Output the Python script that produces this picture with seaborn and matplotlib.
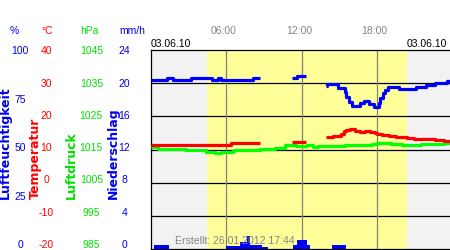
import numpy as np
import pandas as pd
import matplotlib
matplotlib.use("Agg")
import matplotlib.pyplot as plt
from matplotlib import transforms
import seaborn as sns

# ---------------- data ----------------
nan = np.nan
# relative humidity (%), step changes, nan = gap
humidity_hours = [0.0, 1.3, 1.8, 3.2, 4.9, 5.35, 5.6, 8.15, 8.7, nan,
                  11.2, 11.6, 12.3, nan,
                  13.9, 14.0, 14.9, 15.4, 15.55, 15.75, 15.95, 16.6, 16.95, 17.35,
                  17.7, 18.1, 18.25, 18.45, 18.65, 18.85, 19.7, 21.1, 21.9, 22.6,
                  23.5, 24.0]
humidity_values = [84.8, 86.0, 84.8, 86.0, 84.8, 86.0, 84.8, 86.0, 86.0, nan,
                   86.1, 86.8, 86.8, nan,
                   81.9, 82.9, 80.7, 79.0, 76.5, 74.0, 72.0, 73.4, 74.4, 73.0,
                   71.6, 73.4, 76.0, 78.5, 80.0, 81.3, 80.3, 81.4, 82.4, 83.4,
                   84.4, 84.4]
# temperature (°C)
temp_hours = [0.0, 6.4, 8.7, nan,
              11.2, 12.3, nan,
              13.9, 14.5, 15.1, 15.35, 15.55, 15.8, 16.2, 16.6, 17.0, 17.4, 17.8,
              18.0, 18.4, 18.9, 19.5, 20.4, 20.9, 21.9, 22.6, 23.3, 24.0]
temp_values = [11.5, 11.9, 11.9, nan,
               12.4, 12.4, nan,
               13.7, 14.1, 14.8, 15.5, 15.9, 16.1, 15.7, 15.4, 15.6, 15.4, 15.0,
               14.7, 14.4, 14.1, 13.8, 13.6, 13.3, 13.1, 12.9, 12.7, 12.7]
# air pressure (hPa)
pressure_hours = [0.0, 0.6, 2.8, 4.4, 5.1, 5.6, 6.5, 6.6, 8.7, 9.9, 10.7, 11.5,
                  12.4, 12.9, 13.3, 15.4, 17.6, 18.0, 19.1, 20.0, 21.5, 22.5, 23.3, 24.0]
pressure_values = [1015.8, 1015.3, 1014.7, 1014.2, 1013.8, 1014.1, 1014.5, 1015.0,
                   1015.2, 1015.6, 1016.3, 1016.1, 1016.3, 1015.9, 1016.2, 1016.5,
                   1016.8, 1016.9, 1016.6, 1016.4, 1016.7, 1016.8, 1017.0, 1017.0]
# precipitation (mm/h)
precip_start = [0.25, 5.98, 7.10, 7.65, 7.90, 8.85, 11.30, 11.60, 12.40, 14.40]
precip_end = [1.45, 7.10, 7.65, 7.90, 8.85, 9.30, 11.60, 12.40, 12.65, 15.50]
precip_values = [0.5, 0.4, 0.9, 1.6, 0.5, 0.3, 0.5, 1.1, 0.5, 0.5]

sunrise, sunset = 4.47, 20.37
time_ticks = [6, 12, 18]
time_labels = ["06:00", "12:00", "18:00"]
date_label = "03.06.10"
created_label = "Erstellt: 26.01.2012 17:44"

humidity_ticks = [100, 75, 50, 25, 0]
temp_ticks = [40, 30, 20, 10, 0, -10, -20]
pressure_ticks = [1045, 1035, 1025, 1015, 1005, 995, 985]
precip_ticks = [24, 20, 16, 12, 8, 4, 0]

# ---------------- style ----------------
sns.set_theme(style="white")
plt.rcParams["font.family"] = ["Liberation Sans", "DejaVu Sans"]

BLUE = "#0000ff"
RED = "#ff0000"
GREEN = "#00ff00"
BLUE_T = "#0000ee"
RED_T = "#ff0000"
GREEN_T = "#00e000"
GRAY_T = "#858585"

W, H = 450, 250
fig = plt.figure(figsize=(4.5, 2.5), dpi=100)
fig.patch.set_facecolor("white")


def fx(px):
    return px / W


def fy(py):
    return 1 - py / H


ax = fig.add_axes([150.8 / W, 1 - 249 / H, 302 / W, 199 / H])
ax.set_facecolor("#f2f2f2")
ax.axvspan(sunrise, sunset, color="#ffff99", lw=0, zorder=0)
for y in precip_ticks[1:-1]:
    ax.axhline(y, color="black", lw=0.9, zorder=1)
for t in time_ticks:
    ax.axvline(t, color="#808080", lw=0.9, zorder=1)

widths = [e - s for s, e in zip(precip_start, precip_end)]
ax.bar(precip_start, precip_values, width=widths, align="edge", color=BLUE,
       lw=0, zorder=2)
ax.set_ylim(0, 24)
ax.set_xticks([])
ax.set_yticks([])
for s in ax.spines.values():
    s.set_color("black")
    s.set_linewidth(0.9)


def segments(hours, values):
    df = pd.DataFrame({"hour": hours, "value": values})
    df["seg"] = df["value"].isna().cumsum()
    return df.dropna()


def draw(hours, values, ylim, color):
    tw = ax.twinx()
    sns.lineplot(data=segments(hours, values), x="hour", y="value", units="seg",
                 estimator=None, ax=tw, color=color, lw=2.3,
                 drawstyle="steps-post", solid_capstyle="butt", legend=False)
    tw.set_ylim(*ylim)
    tw.axis("off")
    return tw


draw(pressure_hours, pressure_values, (985, 1045), GREEN)
draw(temp_hours, temp_values, (-20, 40), RED)
draw(humidity_hours, humidity_values, (0, 100), BLUE)
ax.set_xlim(0, 24)

# ---------------- left scales ----------------
FS = 7.5


def scale_labels(ticks, xc, color):
    lo, hi = min(ticks), max(ticks)
    for v in ticks:
        frac = (v - lo) / (hi - lo)
        yc = 50.7 + (1 - frac) * 193.5
        fig.text(fx(xc), fy(yc + 3.7), f"{v}", ha="center", va="baseline",
                 color=color, fontsize=FS)


scale_labels(humidity_ticks, 20.0, BLUE_T)
scale_labels(temp_ticks, 46.5, RED_T)
scale_labels(pressure_ticks, 91.3, GREEN_T)
scale_labels(precip_ticks, 124.5, BLUE_T)

for txt, xc, col in [("%", 14.2, BLUE_T), ("°C", 46.7, RED_T),
                     ("hPa", 89.5, GREEN_T), ("mm/h", 132.5, BLUE_T)]:
    fig.text(fx(xc), fy(34.4), txt, ha="center", va="baseline", color=col,
             fontsize=FS)

for txt, xc, col in [("Luftfeuchtigkeit", 5.3, BLUE_T), ("Temperatur", 35.3, RED_T),
                     ("Luftdruck", 71.3, GREEN_T), ("Niederschlag", 113.0, BLUE_T)]:
    fig.text(fx(xc), fy(199.3), txt, rotation=90, ha="center", va="bottom",
             color=col, fontsize=9, fontweight="bold", family="DejaVu Sans")

# ---------------- top labels ----------------
trans = transforms.blended_transform_factory(ax.transData, fig.transFigure)
trans = transforms.offset_copy(trans, fig=fig, x=-2.6, y=0, units="dots")
for t, lab in zip(time_ticks, time_labels):
    fig.text(t, fy(34.0), lab, transform=trans, ha="center", va="baseline",
             color=GRAY_T, fontsize=FS)

fig.text(fx(150.7), fy(46.7), date_label, ha="left", va="baseline",
         color="black", fontsize=FS)
fig.text(fx(446.7), fy(46.7), date_label, ha="right", va="baseline",
         color="black", fontsize=FS)
fig.text(fx(175.0), fy(244.2), created_label, ha="left", va="baseline",
         color=GRAY_T, fontsize=7.6, zorder=10)

fig.savefig("out.png", dpi=100)
